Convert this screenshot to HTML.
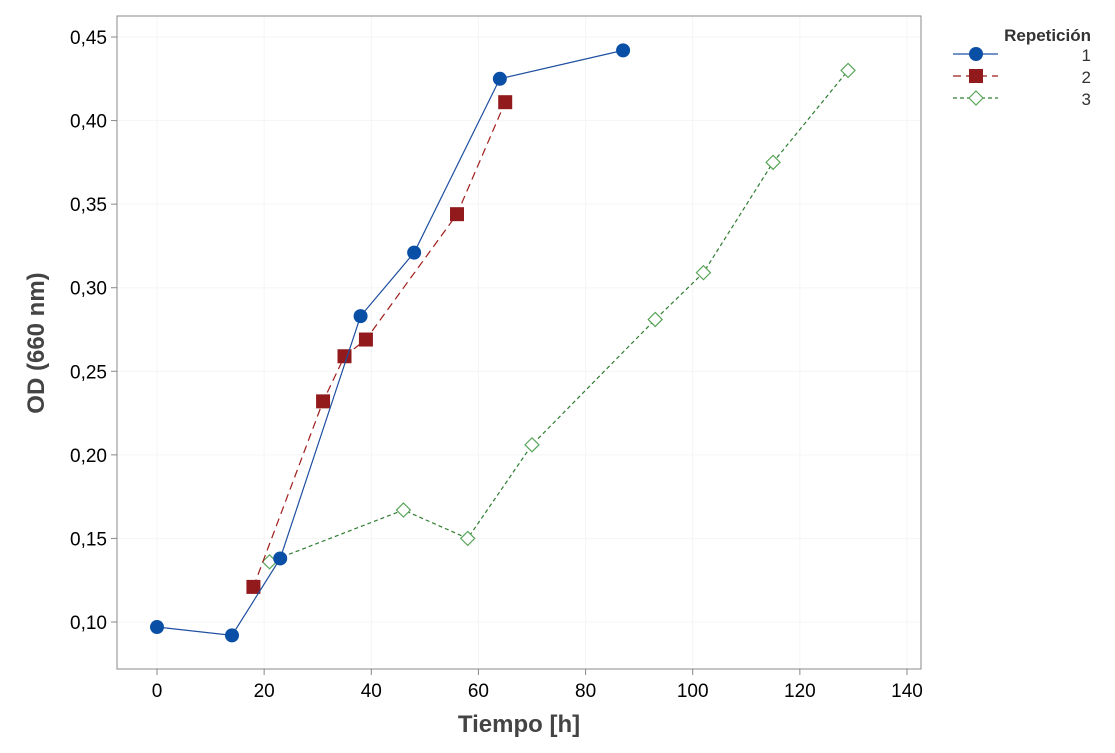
<!DOCTYPE html>
<html><head><meta charset="utf-8"><style>
body{margin:0;background:#fff;font-family:"Liberation Sans",sans-serif}
</style></head><body>
<svg id="c" width="1115" height="748" xmlns="http://www.w3.org/2000/svg"></svg>
<script>
const xTicks=[0,20,40,60,80,100,120,140];
const yTicks=[0.10,0.15,0.20,0.25,0.30,0.35,0.40,0.45];
const yTickLabels=["0,10","0,15","0,20","0,25","0,30","0,35","0,40","0,45"];
const s1x=[0,14,23,38,48,64,87];
const s1y=[0.097,0.092,0.138,0.283,0.321,0.425,0.442];
const s2x=[18,31,35,39,56,65];
const s2y=[0.121,0.232,0.259,0.269,0.344,0.411];
const s3x=[21,46,58,70,93,102,115,129];
const s3y=[0.136,0.167,0.150,0.206,0.281,0.309,0.375,0.430];
const legendLabels=["1","2","3"];

const svg=document.getElementById('c');
const NS="http://www.w3.org/2000/svg";
const L=117,R=921,T=16,B=669;
const X=v=>157+v*(750/140);
const Y=v=>622-(v-0.10)*(585/0.35);
function mk(tag,attrs,parent){const e=document.createElementNS(NS,tag);for(const k in attrs)e.setAttribute(k,attrs[k]);(parent||svg).appendChild(e);return e;}

xTicks.forEach(t=>{const g=mk('line',{x1:X(t),x2:X(t),y1:T,y2:B,stroke:'#f5f5f5','stroke-width':1});

});
yTicks.forEach(t=>{const g=mk('line',{x1:L,x2:R,y1:Y(t),y2:Y(t),stroke:'#f5f5f5','stroke-width':1});

});
const box=mk('rect',{x:L,y:T,width:R-L,height:B-T,fill:'none',stroke:'#888','stroke-width':1});



xTicks.forEach(t=>{mk('line',{x1:X(t),x2:X(t),y1:B,y2:B+6,stroke:'#888'});
const tx=mk('text',{x:X(t),y:B+28,'text-anchor':'middle','font-size':19,fill:'#000'});tx.textContent=t;

});
yTicks.forEach((t,i)=>{mk('line',{x1:L-6,x2:L,y1:Y(t),y2:Y(t),stroke:'#888'});
const tx=mk('text',{x:L-10,y:Y(t)+7,'text-anchor':'end','font-size':19,fill:'#000'});tx.textContent=yTickLabels[i];

});

const xt=mk('text',{x:519,y:732,'text-anchor':'middle','font-size':24,'font-weight':'bold',fill:'#444'});xt.textContent='Tiempo [h]';


const yt=mk('text',{x:44,y:343,'text-anchor':'middle','font-size':24,'font-weight':'bold',fill:'#444',transform:'rotate(-90 44 343)'});yt.textContent='OD (660 nm)';



function series(xs,ys,color,dash,marker,name){
 const pl=mk('polyline',{points:xs.map((x,i)=>X(x)+','+Y(ys[i])).join(' '),fill:'none',stroke:color,'stroke-width':1.2,'stroke-dasharray':dash});
 
 
 xs.forEach((x,i)=>{const m=marker(X(x),Y(ys[i]));
 
 });
}
const circ=(cx,cy)=>mk('circle',{cx,cy,r:7,fill:'#0a4fa6'});
const sq=(cx,cy)=>mk('rect',{x:cx-7,y:cy-7,width:14,height:14,fill:'#921a1d'});
const dia=(cx,cy)=>mk('polygon',{points:`${cx},${cy-7} ${cx+7},${cy} ${cx},${cy+7} ${cx-7},${cy}`,fill:'#fff',stroke:'#5aa55a','stroke-width':1.2});
series(s3x,s3y,'#2f7d32','4 3',dia,'series-3');
series(s2x,s2y,'#a01c1c','8 5',sq,'series-2');
series(s1x,s1y,'#1f4fa0','',circ,'series-1');

const lt=mk('text',{x:1091,y:41,'text-anchor':'end','font-size':17,'font-weight':'bold',fill:'#333'});lt.textContent='Repetición';


const lg=[['#1f4fa0','',circ],['#a01c1c','8 5',sq],['#2f7d32','4 3',dia]];
lg.forEach((d,i)=>{const y=54+i*22;
 mk('line',{x1:953,x2:998,y1:y,y2:y,stroke:d[0],'stroke-width':1.2,'stroke-dasharray':d[1]});
 d[2](976,y);
 const tx=mk('text',{x:1091,y:y+7,'text-anchor':'end','font-size':17,fill:'#333'});tx.textContent=legendLabels[i];
 
 });
</script>
</body></html>
